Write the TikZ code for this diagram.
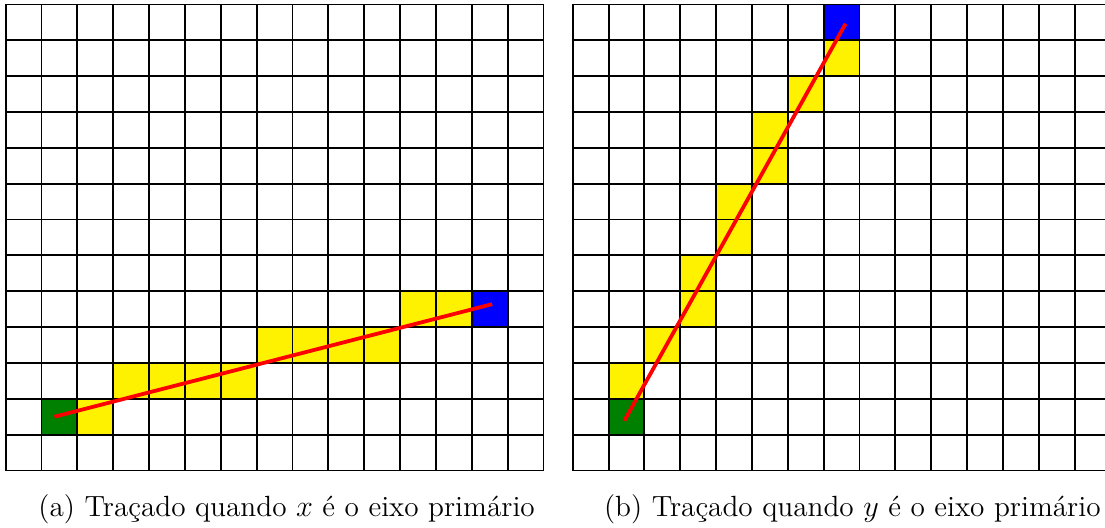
\documentclass[tikz,border=0pt]{standalone}
\begin{document}
\begin{tikzpicture}[x=0.5cm,y=0.5cm,
  gridline/.style={line width=0.75pt,black},
  ray/.style={red,line width=1.5pt},
  capt/.style={anchor=base west,inner sep=0pt,font=\fontsize{11.6pt}{14pt}\selectfont}]
\clip (-0.159,-1.576) rectangle (30.664,13.124);
\fill[white] (-0.159,-1.576) rectangle (30.664,13.124);
% ---------- (a) ----------
\begin{scope}
  \fill[green!50!black] (1,1) rectangle ++(1,1);
  \foreach \c/\r in {2/1,3/2,4/2,5/2,6/2,7/3,8/3,9/3,10/3,11/4,12/4}
    \fill[yellow] (\c,\r) rectangle ++(1,1);
  \fill[blue] (13,4) rectangle ++(1,1);
  \foreach \i in {0,...,15} \draw[gridline] (\i,0) -- (\i,13);
  \foreach \j in {0,...,13} \draw[gridline] (0,\j) -- (15,\j);
  \draw[gridline] (0,0) rectangle (15,13);
  \coordinate (a1) at (1.36,1.5);
  \coordinate (a2) at (13.57,4.64);
  \draw[ray] (a1) -- (a2);
  \node[capt] (capa) at (0.9,-1.27) {(a) Traçado quando $x$ é o eixo primário};
\end{scope}
% ---------- (b) ----------
\begin{scope}[xshift=7.908cm]
  \fill[green!50!black] (1,1) rectangle ++(1,1);
  \foreach \c/\r in {1/2,2/3,3/4,3/5,4/6,4/7,5/8,5/9,6/10,7/11}
    \fill[yellow] (\c,\r) rectangle ++(1,1);
  \fill[blue] (7,12) rectangle ++(1,1);
  \foreach \i in {0,...,15} \draw[gridline] (\i,0) -- (\i,13);
  \foreach \j in {0,...,13} \draw[gridline] (0,\j) -- (15,\j);
  \draw[gridline] (0,0) rectangle (15,13);
  \coordinate (b1) at (1.44,1.39);
  \coordinate (b2) at (7.61,12.46);
  \draw[ray] (b1) -- (b2);
  \node[capt] (capb) at (0.86,-1.27) {(b) Traçado quando $y$ é o eixo primário};
\end{scope}
\end{tikzpicture}
\end{document}
